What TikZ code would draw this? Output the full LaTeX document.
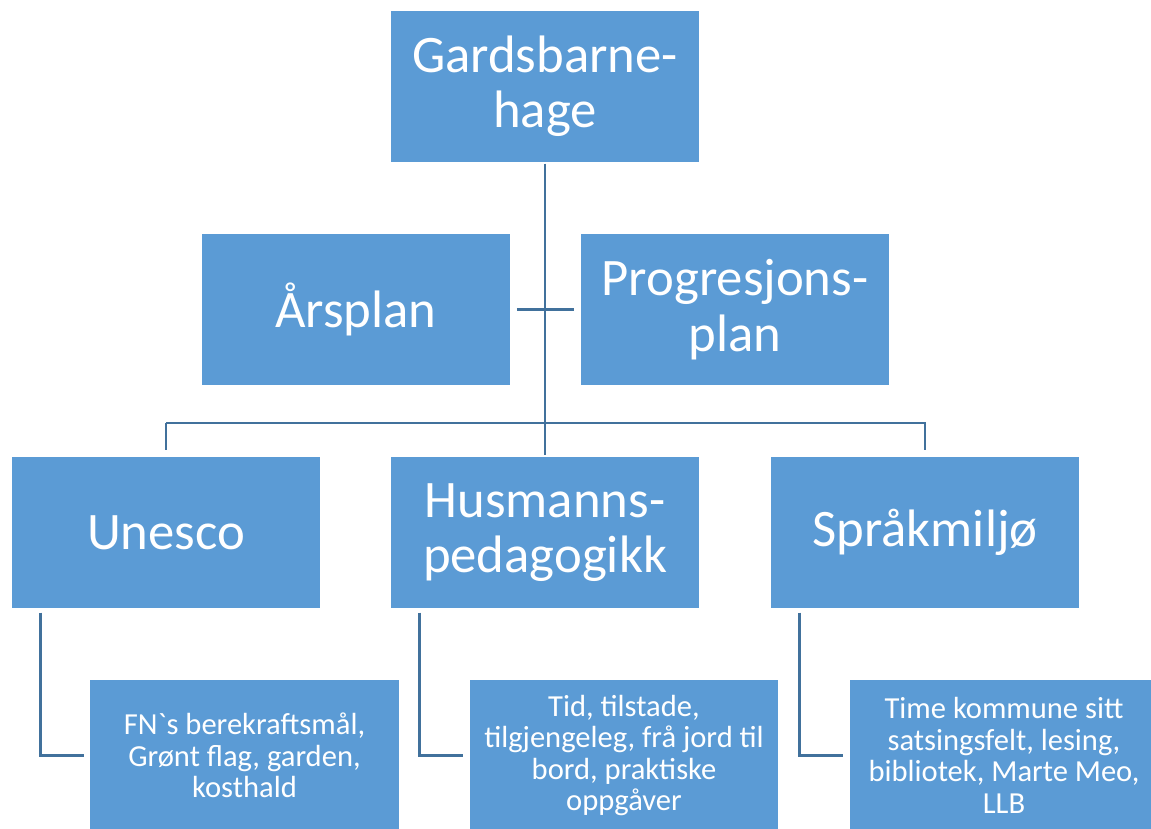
\documentclass[tikz,border=0pt]{standalone}
\usepackage{fontspec}
\setmainfont{Carlito}
\usetikzlibrary{positioning}
\definecolor{boksblaa}{RGB}{91,155,213}
\definecolor{linjeblaa}{RGB}{65,113,156}
\tikzset{
  boks/.style={fill=boksblaa,draw=white,line width=0.6pt,text=white,align=center,
    minimum width=6.2cm,minimum height=3.06cm,inner sep=2pt,
    font=\fontsize{30}{31.5}\selectfont},
  litenboks/.style={boks,font=\fontsize{17.4}{18}\selectfont},
  linje/.style={draw=linjeblaa,line width=1.4pt}
}
\begin{document}
\begin{tikzpicture}[x=0.02cm,y=-0.02cm]
\clip (0,0) rectangle (1151,828);
\fill[white] (0,0) rectangle (1151,828);
% hovudboksar
\node[boks] (gard) at (545,86.5) {Gardsbarne-\\hage};
\node[boks] (aars) at (356,309.5) {Årsplan};
\node[boks] (prog) at (735,309.5) {Progresjons-\\plan};
\node[boks] (unesco) at (166,532.5) {Unesco};
\node[boks] (husm) at (545,532.5) {Husmanns-\\pedagogikk};
\node[boks] (spraak) at (925,532.5) {Språkmiljø};
% underboksar
\node[litenboks] (fn) at (244.5,755.5) {FN\textasciigrave s berekraftsmål,\\Grønt flag, garden,\\kosthald};
\node[litenboks] (tid) at (624,755.5) {Tid, tilstade,\\tilgjengeleg, frå jord til\\bord, praktiske\\oppgåver};
\node[litenboks] (time) at (1004,755.5) {Time kommune sitt\\satsingsfelt, lesing,\\bibliotek, Marte Meo,\\LLB};
% linjer
\draw[linje] (gard.south) -- (husm.north);
\draw[linje,shorten <=3,shorten >=3] (aars.east) -- (prog.west);
\coordinate (grein) at (545,423);
\draw[linje,shorten >=3] (grein -| unesco.north) -- (grein -| spraak.north) -- (spraak.north);
\draw[linje,shorten >=3] (grein -| unesco.north) -- (unesco.north);
\draw[linje] (unesco.south west) ++(30,3) |- ([xshift=-3]fn.west);
\draw[linje] (husm.south west) ++(30,3) |- ([xshift=-3]tid.west);
\draw[linje] (spraak.south west) ++(30,3) |- ([xshift=-3]time.west);
\end{tikzpicture}
\end{document}
